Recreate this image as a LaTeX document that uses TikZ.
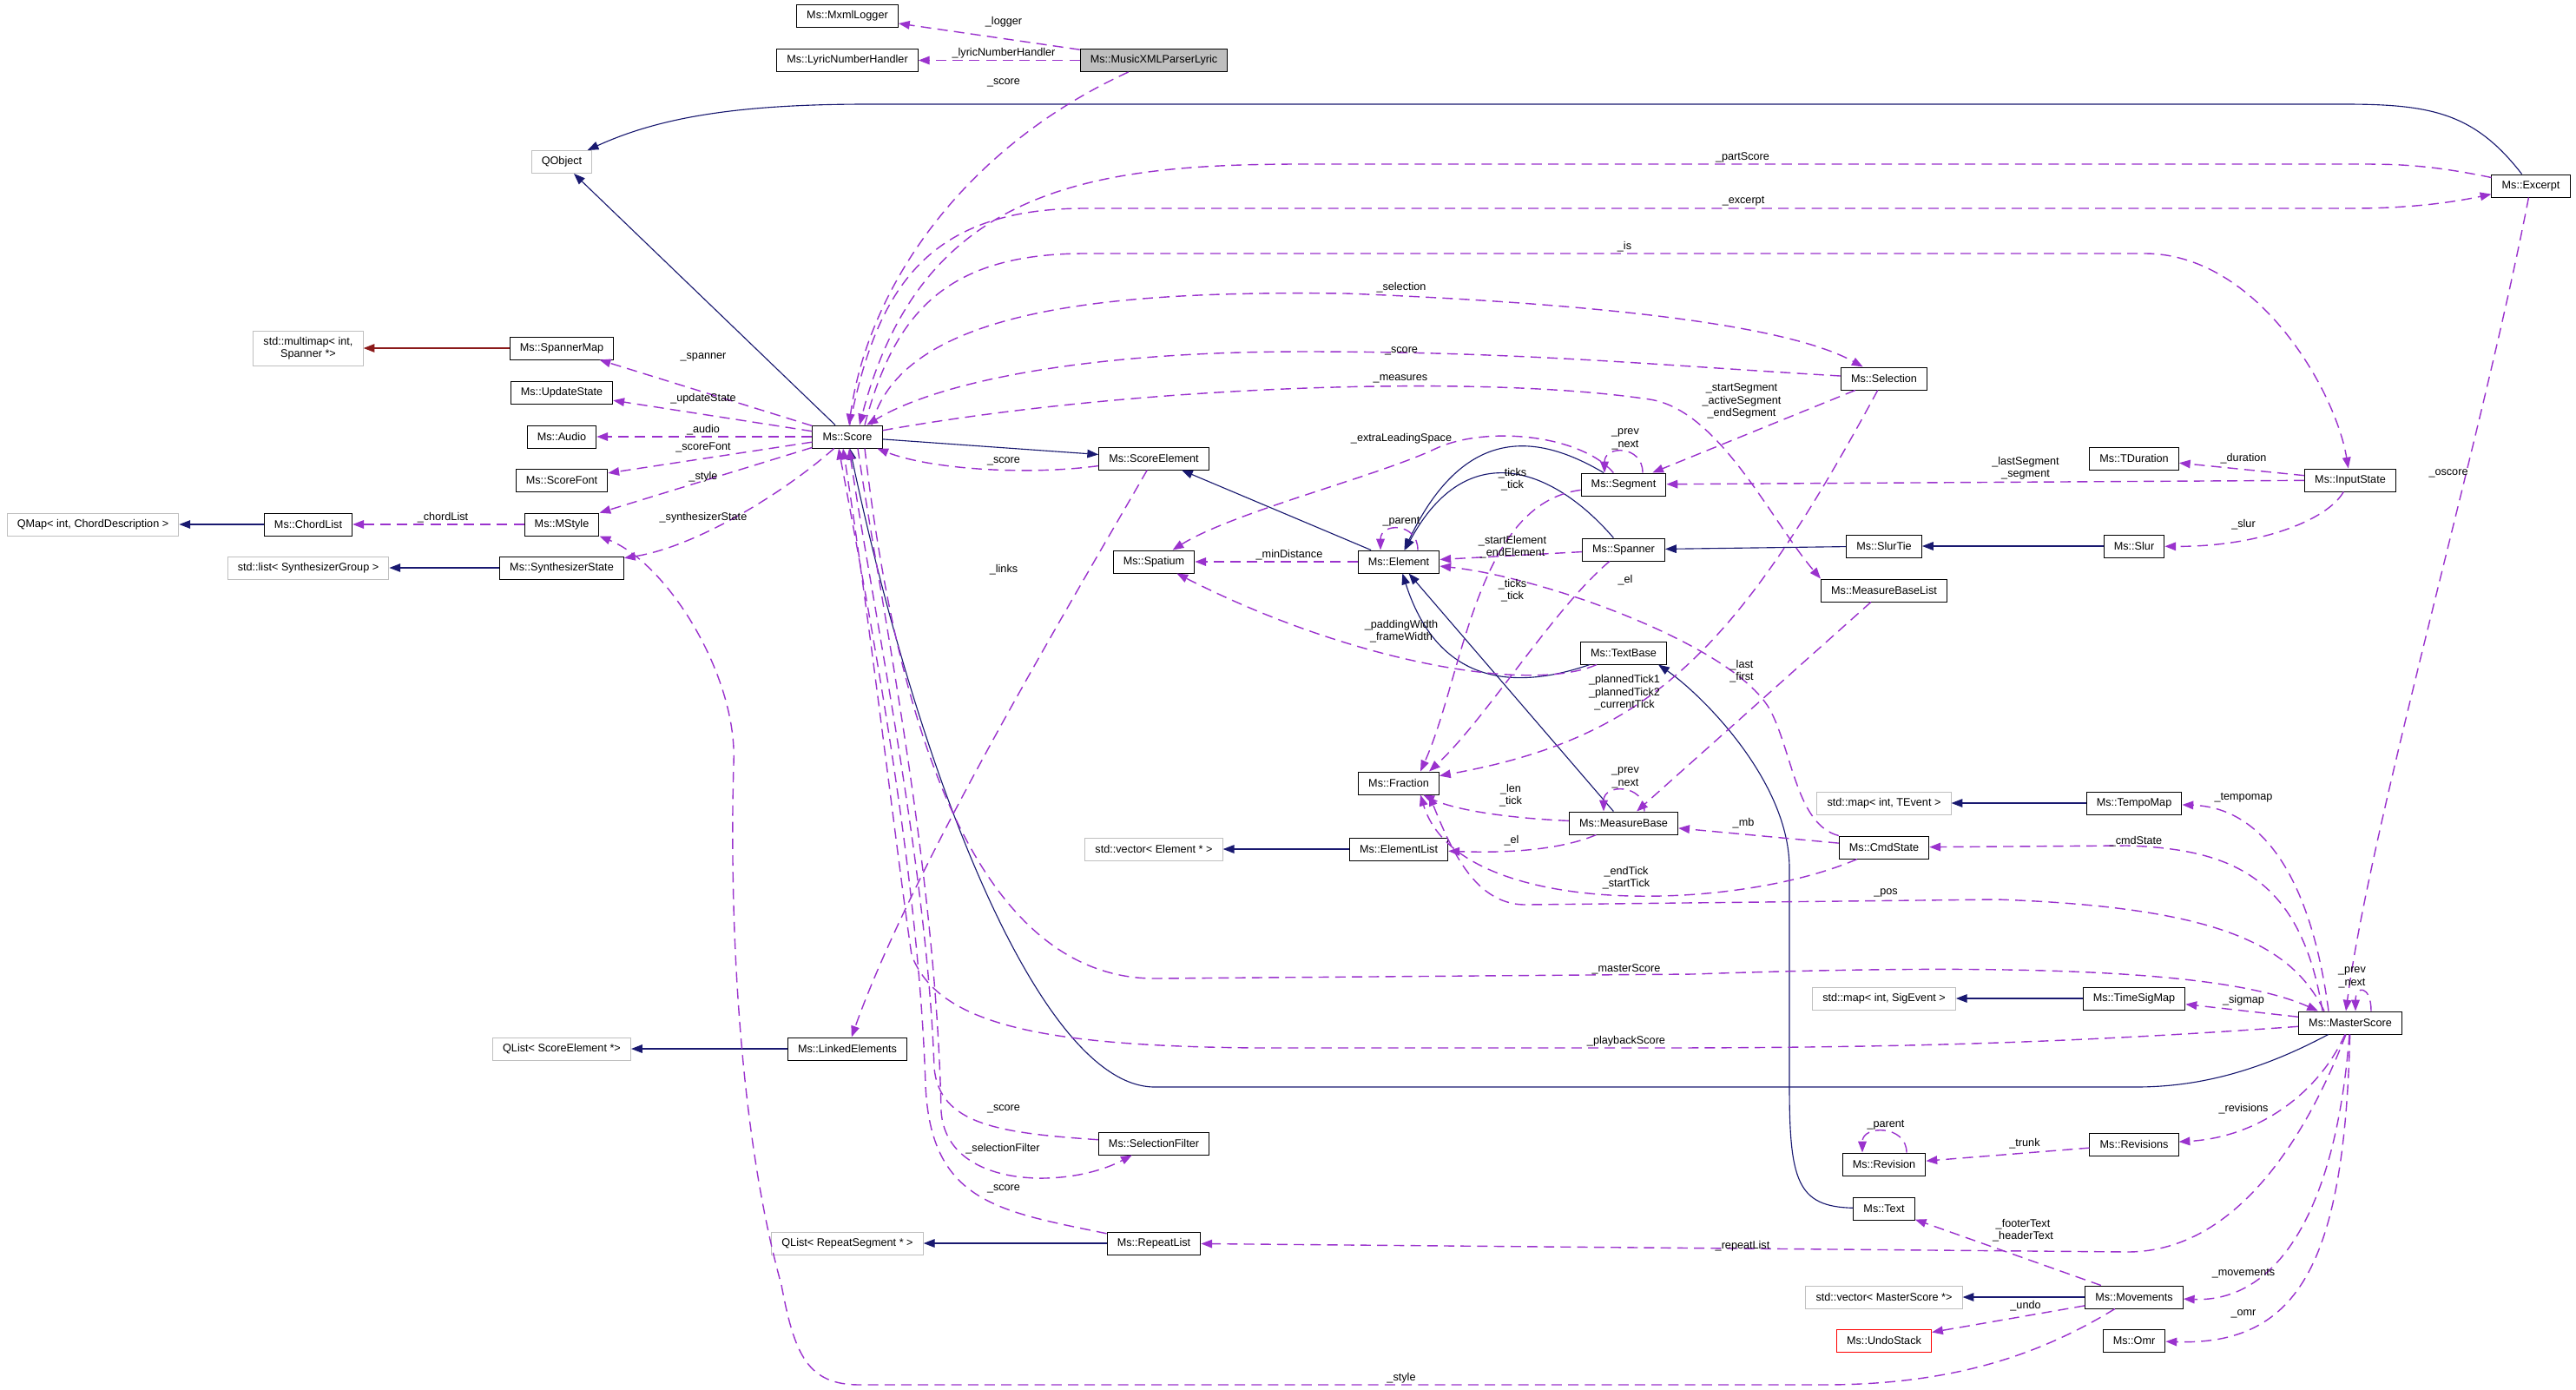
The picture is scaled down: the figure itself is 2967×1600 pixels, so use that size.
\documentclass[tikz,border=0pt]{standalone}
\usepackage{fontspec}
\setmainfont{Liberation Sans}
\usetikzlibrary{arrows.meta,calc}
\definecolor{inhblue}{HTML}{191970}
\definecolor{usepurple}{HTML}{9A32CD}
\definecolor{tmplred}{HTML}{8B1A1A}
\definecolor{extgray}{HTML}{BFBFBF}
\definecolor{curgray}{HTML}{BFBFBF}
\tikzset{
  classbox/.style={draw=black, fill=white, line width=0.7pt, minimum height=0.65cm, inner xsep=8.3pt, inner ysep=2pt, font=\fontsize{9}{10.3}\selectfont, align=center},
  extbox/.style={classbox, draw=extgray},
  curbox/.style={classbox, fill=curgray},
  redbox/.style={classbox, draw=red},
  inherit/.style={inhblue, line width=0.8pt, -{Triangle[length=0.32cm,width=0.24cm]}},
  usage/.style={usepurple, line width=1pt, dash pattern=on 0.3cm off 0.18cm, -{Triangle[length=0.32cm,width=0.24cm]}},
  templ/.style={tmplred, line width=0.8pt, -{Triangle[length=0.32cm,width=0.24cm]}},
  edgelabel/.style={font=\fontsize{9}{10.3}\selectfont, align=center, inner sep=0pt}
}

\begin{document}
\begin{tikzpicture}[x=0.025cm, y=-0.025cm]
  \useasboundingbox (0,0) rectangle (2967,1600);

  % classes
  \node[classbox] (mxmllogger) at (976,18.5) {Ms::MxmlLogger};
  \node[classbox] (lyrichandler) at (976,69.5) {Ms::LyricNumberHandler};
  \node[curbox] (parserlyric) at (1329,69.5) {Ms::MusicXMLParserLyric};
  \node[extbox] (qobject) at (647,186.5) {QObject};
  \node[extbox, minimum height=1cm] (multimap) at (355,401) {std::multimap< int,\\Spanner *>};
  \node[classbox] (spannermap) at (647,401) {Ms::SpannerMap};
  \node[classbox] (updatestate) at (647,452) {Ms::UpdateState};
  \node[classbox] (audio) at (647,503) {Ms::Audio};
  \node[classbox] (scorefont) at (647,553) {Ms::ScoreFont};
  \node[extbox] (qmapchord) at (107,604) {QMap< int, ChordDescription >};
  \node[classbox] (chordlist) at (355,604) {Ms::ChordList};
  \node[classbox] (mstyle) at (647,604) {Ms::MStyle};
  \node[extbox] (synthlist) at (355,654) {std::list< SynthesizerGroup >};
  \node[classbox] (synthstate) at (647,654) {Ms::SynthesizerState};
  \node[classbox] (score) at (976,503) {Ms::Score};
  \node[classbox] (scoreelement) at (1329,528) {Ms::ScoreElement};
  \node[classbox] (spatium) at (1329,647) {Ms::Spatium};
  \node[classbox] (element) at (1611,647) {Ms::Element};
  \node[classbox] (segment) at (1870,558) {Ms::Segment};
  \node[classbox] (spanner) at (1870,633) {Ms::Spanner};
  \node[classbox] (textbase) at (1870,752) {Ms::TextBase};
  \node[classbox] (selection) at (2170,436) {Ms::Selection};
  \node[classbox] (tduration) at (2458,528) {Ms::TDuration};
  \node[classbox] (inputstate) at (2707,553) {Ms::InputState};
  \node[classbox] (excerpt) at (2915,214) {Ms::Excerpt};
  \node[classbox] (slurtie) at (2170,629) {Ms::SlurTie};
  \node[classbox] (slur) at (2458,629) {Ms::Slur};
  \node[classbox] (measurebaselist) at (2170,680) {Ms::MeasureBaseList};
  \node[classbox] (fraction) at (1611,902) {Ms::Fraction};
  \node[classbox] (measurebase) at (1870,948) {Ms::MeasureBase};
  \node[extbox] (vecelement) at (1329,978) {std::vector< Element * >};
  \node[classbox] (elementlist) at (1611,978) {Ms::ElementList};
  \node[extbox] (maptevent) at (2170,925) {std::map< int, TEvent >};
  \node[classbox] (tempomap) at (2458,925) {Ms::TempoMap};
  \node[classbox] (cmdstate) at (2170,976) {Ms::CmdState};
  \node[extbox] (mapsigevent) at (2170,1150) {std::map< int, SigEvent >};
  \node[classbox] (timesigmap) at (2458,1150) {Ms::TimeSigMap};
  \node[classbox] (masterscore) at (2707,1178) {Ms::MasterScore};
  \node[extbox] (qlistelement) at (647,1208) {QList< ScoreElement *>};
  \node[classbox] (linkedelements) at (976,1208) {Ms::LinkedElements};
  \node[classbox] (selectionfilter) at (1329,1317) {Ms::SelectionFilter};
  \node[extbox] (qlistrepeat) at (976,1432) {QList< RepeatSegment * >};
  \node[classbox] (repeatlist) at (1329,1432) {Ms::RepeatList};
  \node[classbox] (revision) at (2170,1341) {Ms::Revision};
  \node[classbox] (revisions) at (2458,1318) {Ms::Revisions};
  \node[classbox] (txt) at (2170,1392) {Ms::Text};
  \node[extbox] (vecmaster) at (2170,1494) {std::vector< MasterScore *>};
  \node[classbox] (movements) at (2458,1494) {Ms::Movements};
  \node[redbox] (undostack) at (2170,1544) {Ms::UndoStack};
  \node[classbox] (omr) at (2458,1544) {Ms::Omr};

  % inheritance
  \draw[inherit] (score) -- (qobject);
  \draw[inherit] (excerpt) .. controls (2850,130) and (2800,120) .. (2700,120) -- (1000,120) .. controls (850,120) and (760,135) .. (qobject);
  \draw[inherit] (chordlist) -- (qmapchord);
  \draw[inherit] (synthstate) -- (synthlist);
  \draw[templ] (spannermap) -- (multimap);
  \draw[inherit] (score) -- (scoreelement);
  \draw[inherit] (element) -- (scoreelement);
  \draw[inherit] (segment) .. controls (1780,505) and (1690,480) .. (element);
  \draw[inherit] (spanner) .. controls (1790,540) and (1690,500) .. (element);
  \draw[inherit] (textbase) .. controls (1760,790) and (1660,800) .. (element);
  \draw[inherit] (measurebase) -- (element);
  \draw[inherit] (slur) -- (slurtie);
  \draw[inherit] (slurtie) -- (spanner);
  \draw[inherit] (elementlist) -- (vecelement);
  \draw[inherit] (tempomap) -- (maptevent);
  \draw[inherit] (timesigmap) -- (mapsigevent);
  \draw[inherit] (linkedelements) -- (qlistelement);
  \draw[inherit] (repeatlist) -- (qlistrepeat);
  \draw[inherit] (movements) -- (vecmaster);
  \draw[inherit] (masterscore) .. controls (2600,1235) and (2530,1252) .. (2460,1252) -- (1330,1252) .. controls (1200,1252) and (1060,900) .. (score);
  \draw[inherit] (txt) .. controls (2070,1390) and (2061,1360) .. (2061,1250) -- (2061,1000) .. controls (2061,900) and (1960,800) .. ($(textbase.south)+(40,0)$);

  % members
  \draw[usage] (parserlyric) -- (mxmllogger);
  \draw[usage] (parserlyric) -- (lyrichandler);
  \draw[usage] (parserlyric) .. controls (1110,170) and (1000,330) .. (score);
  \draw[usage] (excerpt) .. controls (2800,190) and (2760,189) .. (2720,189) -- (1490,189) .. controls (1250,190) and (1060,220) .. ($(score.north)+(14,0)$);
  \draw[usage] (score) .. controls (1010,330) and (1070,240) .. (1250,240) -- (2710,240) .. controls (2780,240) and (2830,232) .. (excerpt);
  \draw[usage] ($(score.north)+(20,0)$) .. controls (1030,360) and (1090,292) .. (1250,292) -- (2470,292) .. controls (2600,292) and (2690,450) .. (inputstate);
  \draw[usage] ($(score.north)+(28,0)$) .. controls (1040,350) and (1300,335) .. (1550,338) .. controls (1850,350) and (2060,375) .. (selection);
  \draw[usage] (selection) .. controls (1900,420) and (1750,405) .. (1500,405) .. controls (1250,405) and (1080,440) .. (score);
  \draw[usage] (score) .. controls (1300,445) and (1700,430) .. (1900,460) .. controls (1980,472) and (2040,600) .. (measurebaselist.north west);
  \draw[usage] (score) -- (spannermap);
  \draw[usage] (score) -- (updatestate);
  \draw[usage] (score) -- (audio);
  \draw[usage] (score) -- (scorefont);
  \draw[usage] (score) -- (mstyle);
  \draw[usage] (score) .. controls (900,570) and (800,630) .. (synthstate);
  \draw[usage] (mstyle) -- (chordlist);
  \draw[usage] (scoreelement) .. controls (1180,548) and (1070,540) .. (score);
  \draw[usage] (scoreelement) .. controls (1230,700) and (1050,1000) .. (linkedelements);
  \draw[usage] (element) -- (spatium);
  \draw[usage] (segment) .. controls (1820,500) and (1710,490) .. (1653,517) .. controls (1585,549) and (1420,590) .. (spatium);
  \draw[usage] ($(segment.north)+(22,0)$) .. controls +(0,-32) and +(0,-32) .. ($(segment.north)+(-22,0)$);
  \draw[usage] (segment) .. controls (1700,580) and (1685,780) .. ($(fraction.north)+(25,0)$);
  \draw[usage] ($(element.north)+(22,0)$) .. controls +(0,-32) and +(0,-32) .. ($(element.north)+(-21,0)$);
  \draw[usage] (spanner) -- (element);
  \draw[usage] (spanner) .. controls (1790,700) and (1710,830) .. ($(fraction.north)+(35,0)$);
  \draw[usage] (cmdstate.north west) .. controls (2070,950) and (2065,870) .. (2040,820) .. controls (2002,745) and (1780,665) .. (element);
  \draw[usage] (textbase) .. controls (1760,800) and (1550,760) .. (spatium);
  \draw[usage] (selection) -- (segment);
  \draw[usage] (selection) .. controls (2000,750) and (1900,850) .. (fraction);
  \draw[usage] (inputstate) -- (segment);
  \draw[usage] (inputstate) -- (tduration);
  \draw[usage] (inputstate) .. controls (2680,600) and (2600,630) .. (slur);
  \draw[usage] (measurebaselist) -- (measurebase);
  \draw[usage] ($(measurebase.north)+(24,0)$) .. controls +(0,-32) and +(0,-32) .. ($(measurebase.north)+(-23,0)$);
  \draw[usage] (measurebase) .. controls (1750,943) and (1680,935) .. (fraction);
  \draw[usage] (measurebase) .. controls (1800,978) and (1740,983) .. (elementlist);
  \draw[usage] (cmdstate) -- (measurebase);
  \draw[usage] (cmdstate) .. controls (2000,1050) and (1680,1060) .. ($(fraction.south)+(25,0)$);
  \draw[usage] ($(masterscore.north)+(-30,0)$) .. controls (2640,1090) and (2560,1045) .. (2300,1036) -- (1760,1042) .. controls (1700,1044) and (1672,980) .. ($(fraction.south)+(35,0)$);
  \draw[usage] ($(masterscore.north)+(-32,0)$) .. controls (2650,1010) and (2570,978) .. (2450,974) -- (cmdstate);
  \draw[usage] ($(masterscore.north)+(-25,0)$) .. controls (2660,1000) and (2600,930) .. (tempomap);
  \draw[usage] (masterscore) -- (timesigmap);
  \draw[usage] ($(masterscore.north)+(24,0)$) .. controls +(0,-30) and +(0,-30) .. ($(masterscore.north)+(6,0)$);
  \draw[usage] (excerpt) .. controls (2860,500) and (2730,950) .. ($(masterscore.north)+(-5,0)$);
  \draw[usage] ($(score.south)+(20,0)$) .. controls (1040,900) and (1150,1127) .. (1330,1127) -- (1950,1122) .. controls (2300,1110) and (2560,1115) .. ($(masterscore.north)+(-37,0)$);
  \draw[usage] (masterscore) .. controls (2400,1200) and (2200,1207) .. (1900,1207) -- (1450,1207) .. controls (1200,1205) and (1080,1180) .. (1050,1100) .. controls (1035,1000) and (1000,700) .. ($(score.south)+(-5,0)$);
  \draw[usage] (repeatlist) .. controls (1150,1395) and (1072,1385) .. (1066,1250) .. controls (1058,1000) and (1000,700) .. ($(score.south)+(-10,0)$);
  \draw[usage] (selectionfilter) .. controls (1150,1305) and (1082,1295) .. (1076,1230) .. controls (1068,1000) and (1005,700) .. ($(score.south)+(2,0)$);
  \draw[usage] ($(score.south)+(12,0)$) .. controls (1015,700) and (1078,1000) .. (1084,1280) .. controls (1090,1370) and (1230,1370) .. (selectionfilter);
  \draw[usage] ($(masterscore.south)+(-5,0)$) .. controls (2660,1300) and (2580,1442) .. (2450,1442) -- (repeatlist);
  \draw[usage] (masterscore) .. controls (2670,1260) and (2600,1310) .. (revisions);
  \draw[usage] (revisions) -- (revision);
  \draw[usage] ($(revision.north)+(26,0)$) .. controls +(0,-32) and +(0,-32) .. ($(revision.north)+(-25,0)$);
  \draw[usage] (movements) -- (txt);
  \draw[usage] (movements) -- (undostack);
  \draw[usage] (masterscore) .. controls (2690,1400) and (2620,1500) .. (movements);
  \draw[usage] (masterscore) .. controls (2700,1450) and (2650,1550) .. (omr);
  \draw[usage] (movements) .. controls (2350,1560) and (2250,1595) .. (2100,1595) -- (990,1595) .. controls (930,1595) and (915,1560) .. (900,1480) .. controls (850,1300) and (840,1050) .. (845,880) .. controls (850,780) and (770,650) .. (mstyle.south east);

  % member names
  \node[edgelabel] (lab-logger) at (1156,25) {\_logger};
  \node[edgelabel] (lab-lyric) at (1156,61) {\_lyricNumberHandler};
  \node[edgelabel] (lab-lyricscore) at (1156,95) {\_score};
  \node[edgelabel] (lab-partscore) at (2007,181) {\_partScore};
  \node[edgelabel] (lab-excerpt) at (2008,232) {\_excerpt};
  \node[edgelabel] (lab-is) at (1871,284) {\_is};
  \node[edgelabel] (lab-selection) at (1614,331) {\_selection};
  \node[edgelabel] (lab-selscore) at (1614,404) {\_score};
  \node[edgelabel] (lab-measures) at (1613,436) {\_measures};
  \node[edgelabel] (lab-spanner) at (810,411) {\_spanner};
  \node[edgelabel] (lab-update) at (810,459) {\_updateState};
  \node[edgelabel] (lab-audio) at (810,495) {\_audio};
  \node[edgelabel] (lab-scorefont) at (810,515) {\_scoreFont};
  \node[edgelabel] (lab-style) at (810,549) {\_style};
  \node[edgelabel] (lab-synth) at (810,596) {\_synthesizerState};
  \node[edgelabel] (lab-chordlist) at (510,596) {\_chordList};
  \node[edgelabel] (lab-sescore) at (1156,531) {\_score};
  \node[edgelabel] (lab-links) at (1156,656) {\_links};
  \node[edgelabel] (lab-extra) at (1614,505) {\_extraLeadingSpace};
  \node[edgelabel] (lab-segloop) at (1872,506) {\_prev\\\_next};
  \node[edgelabel] (lab-segticks) at (1742,552) {\_ticks\\\_tick};
  \node[edgelabel] (lab-parent) at (1614,601) {\_parent};
  \node[edgelabel] (lab-mindist) at (1485,639) {\_minDistance};
  \node[edgelabel] (lab-startel) at (1742,630) {\_startElement\\\_endElement};
  \node[edgelabel] (lab-el) at (1872,668) {\_el};
  \node[edgelabel] (lab-spanticks) at (1742,680) {\_ticks\\\_tick};
  \node[edgelabel] (lab-padding) at (1614,727) {\_paddingWidth\\\_frameWidth};
  \node[edgelabel] (lab-planned) at (1871,798) {\_plannedTick1\\\_plannedTick2\\\_currentTick};
  \node[edgelabel] (lab-startseg) at (2006,462) {\_startSegment\\\_activeSegment\\\_endSegment};
  \node[edgelabel] (lab-lastseg) at (2333,539) {\_lastSegment\\\_segment};
  \node[edgelabel] (lab-duration) at (2584,528) {\_duration};
  \node[edgelabel] (lab-slur) at (2584,604) {\_slur};
  \node[edgelabel] (lab-oscore) at (2820,545) {\_oscore};
  \node[edgelabel] (lab-lastfirst) at (2006,773) {\_last\\\_first};
  \node[edgelabel] (lab-mbloop) at (1872,896) {\_prev\\\_next};
  \node[edgelabel] (lab-len) at (1740,916) {\_len\\\_tick};
  \node[edgelabel] (lab-mbel) at (1741,968) {\_el};
  \node[edgelabel] (lab-endtick) at (1873,1011) {\_endTick\\\_startTick};
  \node[edgelabel] (lab-master) at (1873,1116) {\_masterScore};
  \node[edgelabel] (lab-playback) at (1873,1199) {\_playbackScore};
  \node[edgelabel] (lab-mb) at (2008,948) {\_mb};
  \node[edgelabel] (lab-tempomap) at (2584,919) {\_tempomap};
  \node[edgelabel] (lab-cmdstate) at (2460,969) {\_cmdState};
  \node[edgelabel] (lab-pos) at (2172,1028) {\_pos};
  \node[edgelabel] (lab-msloop) at (2709,1126) {\_prev\\\_next};
  \node[edgelabel] (lab-sigmap) at (2584,1152) {\_sigmap};
  \node[edgelabel] (lab-revisions) at (2584,1277) {\_revisions};
  \node[edgelabel] (lab-revparent) at (2172,1296) {\_parent};
  \node[edgelabel] (lab-trunk) at (2332,1317) {\_trunk};
  \node[edgelabel] (lab-footer) at (2330,1417) {\_footerText\\\_headerText};
  \node[edgelabel] (lab-repeat) at (2007,1435) {\_repeatList};
  \node[edgelabel] (lab-movements) at (2584,1467) {\_movements};
  \node[edgelabel] (lab-undo) at (2333,1504) {\_undo};
  \node[edgelabel] (lab-omr) at (2584,1513) {\_omr};
  \node[edgelabel] (lab-sfscore) at (1156,1277) {\_score};
  \node[edgelabel] (lab-selfilter) at (1155,1323) {\_selectionFilter};
  \node[edgelabel] (lab-rlscore) at (1156,1369) {\_score};
  \node[edgelabel] (lab-bottomstyle) at (1614,1587) {\_style};
\end{tikzpicture}
\end{document}
